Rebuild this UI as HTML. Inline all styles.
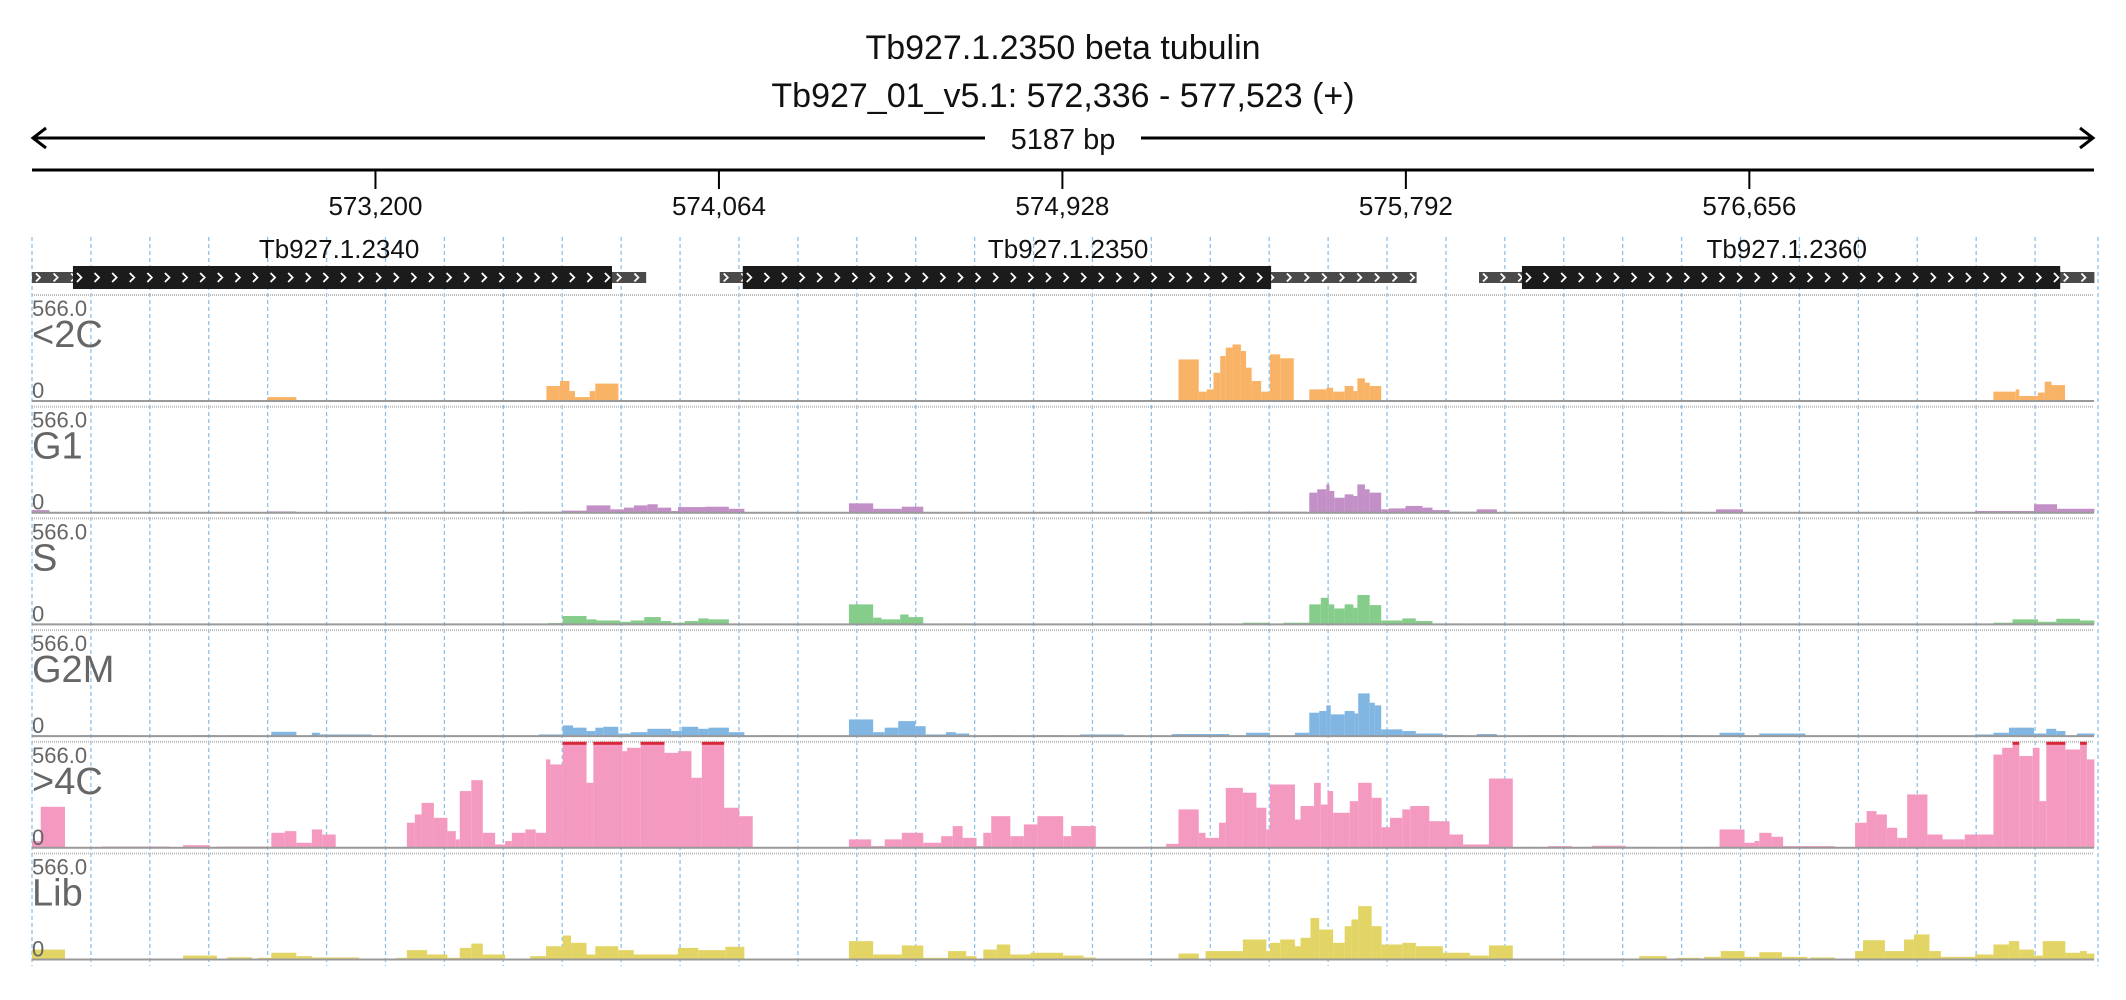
<!DOCTYPE html>
<html><head><meta charset="utf-8">
<style>
html,body{margin:0;padding:0;background:#fff;}
svg{display:block;font-family:"Liberation Sans",sans-serif;}
</style></head>
<body>
<svg id="chart" width="2126" height="1000" viewBox="0 0 2126 1000" xmlns="http://www.w3.org/2000/svg">
  <text x="1063" y="59" text-anchor="middle" font-size="34" fill="#111">Tb927.1.2350  beta tubulin</text>
  <text x="1063" y="107" text-anchor="middle" font-size="34" fill="#111">Tb927_01_v5.1: 572,336 - 577,523 (+)</text>
  <g id="scalebar">
    <line x1="34" y1="138" x2="2092" y2="138" stroke="#000" stroke-width="3"/>
    <polyline points="46,128 33,138 46,148" fill="none" stroke="#000" stroke-width="3"/>
    <polyline points="2080,128 2093,138 2080,148" fill="none" stroke="#000" stroke-width="3"/>
    <rect x="985" y="122" width="156" height="32" fill="#fff"/>
    <text x="1063" y="149" text-anchor="middle" font-size="29" fill="#111">5187 bp</text>
  </g>
  <g id="axis"></g>
  <g id="grid"></g>
  <g id="genes"></g>
  <g id="tracks"></g>
</svg>
<script>
const winStart = 572336;
const winEnd = 577523;
const tickValues = [573200, 574064, 574928, 575792, 576656];
const trackNames = ["<2C", "G1", "S", "G2M", ">4C", "Lib"];
const trackColors = ["#f9b366", "#c290c6", "#86cc8a", "#80b6e1", "#f49ac0", "#e2d566"];
const trackMax = 566;
const geneNames = ["Tb927.1.2340", "Tb927.1.2350", "Tb927.1.2360"];
const geneSpans = [[0, 1545], [1730, 3483], [3640, 5188]];
const cdsSpans = [[103, 1459], [1788, 3117], [3748, 5102]];
const cov2C = [[593,665,21],[1294,1328,80],[1328,1352,107],[1352,1366,53],[1366,1403,21],[1403,1417,53],[1417,1475,93],
[2884,2935,222],[2935,2955,50],[2955,2972,62],[2972,2989,151],[2989,3003,240],[3003,3020,285],[3020,3041,302],[3041,3054,267],[3054,3068,178],[3068,3092,107],[3092,3114,50],[3114,3140,249],[3140,3174,228],[3213,3256,62],[3256,3273,71],[3273,3302,50],[3302,3324,80],[3324,3334,53],[3334,3353,121],[3353,3365,98],[3365,3394,80],[4934,4990,50],[4990,4999,62],[4999,5046,27],[5046,5063,45],[5063,5080,103],[5080,5114,85]];
const covG1 = [[0,44,14],[593,665,7],[1241,1335,5],[1335,1395,11],[1395,1455,39],[1455,1489,18],[1489,1514,27],[1514,1548,39],[1548,1574,45],[1574,1608,27],[1608,1625,9],[1625,1693,30],[1693,1753,32],[1753,1792,21],[2055,2116,50],[2116,2188,21],[2188,2242,32],
[3054,3208,5],[3213,3233,107],[3233,3256,125],[3256,3264,151],[3264,3276,116],[3276,3302,80],[3302,3324,98],[3324,3334,89],[3334,3353,151],[3353,3365,125],[3365,3394,107],[3394,3413,18],[3413,3455,23],[3455,3498,36],[3498,3523,27],[3523,3566,14],[3566,3634,5],[3634,3685,18],[4043,4103,5],[4146,4197,4],[4236,4304,18],[4888,5036,9],[5036,5094,45],[5094,5118,21],[5118,5188,21]];
const covS = [[0,44,5],[1298,1335,7],[1335,1395,45],[1395,1420,27],[1420,1480,21],[1480,1506,14],[1506,1540,21],[1540,1582,39],[1582,1608,18],[1608,1642,9],[1642,1676,18],[1676,1702,32],[1702,1753,27],[2055,2116,107],[2116,2137,36],[2137,2184,27],[2184,2205,53],[2205,2242,39],[2304,2358,5],
[2867,2926,5],[2952,3012,5],[3046,3114,9],[3148,3213,9],[3213,3242,107],[3242,3262,142],[3262,3276,107],[3276,3302,85],[3302,3324,107],[3324,3334,89],[3334,3365,157],[3365,3394,103],[3394,3447,21],[3447,3481,32],[3481,3523,18],[3523,3591,5],[3634,3685,5],[4934,4982,9],[4982,5046,27],[5046,5092,14],[5092,5152,30],[5152,5188,21]];
const covG2M = [[0,44,5],[124,243,5],[406,465,5],[491,554,5],[602,665,23],[704,724,18],[724,854,9],[1275,1335,9],[1335,1361,57],[1361,1395,45],[1395,1417,27],[1417,1437,45],[1437,1475,50],[1475,1506,14],[1506,1548,21],[1548,1608,39],[1608,1634,27],[1634,1676,50],[1676,1702,39],[1702,1753,45],[1753,1792,21],[1838,1881,5],[2055,2116,89],[2116,2145,21],[2145,2179,45],[2179,2222,80],[2222,2248,53],[2248,2299,9],[2299,2324,21],[2324,2358,14],[2413,2464,5],[2526,2594,5],
[2636,2747,9],[2867,3012,11],[3054,3114,18],[3177,3213,18],[3213,3238,125],[3238,3256,134],[3256,3267,164],[3267,3302,116],[3302,3327,134],[3327,3336,121],[3336,3365,228],[3365,3378,178],[3378,3394,164],[3394,3447,36],[3447,3481,27],[3481,3549,14],[3549,3600,5],[3634,3685,11],[3762,3885,5],[4043,4105,5],[4146,4194,5],[4245,4308,18],[4345,4461,14],[4888,4934,9],[4934,4973,18],[4973,5036,45],[5036,5067,14],[5067,5092,39],[5092,5115,27],[5144,5188,14]];
const cov4C = [[0,22,36],[22,83,219],[175,346,7],[380,448,14],[465,593,7],[602,636,80],[636,665,89],[665,704,27],[704,730,98],[730,764,71],[764,892,5],[943,963,134],[963,980,178],[980,1011,240],[1011,1045,160],[1045,1066,89],[1066,1076,45],[1076,1105,303],[1105,1134,361],[1134,1165,80],[1165,1190,18],[1190,1207,36],[1207,1241,80],[1241,1267,98],[1267,1293,80],[1293,1304,472],[1304,1335,445],[1335,1395,600],[1395,1412,347],[1412,1485,600],[1485,1497,516],[1497,1531,534],[1531,1591,600],[1591,1625,507],[1625,1659,516],[1659,1685,374],[1685,1741,600],[1741,1779,214],[1779,1813,169],[2055,2111,45],[2111,2145,9],[2145,2188,45],[2188,2242,80],[2242,2287,27],[2287,2316,62],[2316,2341,116],[2341,2376,53],[2376,2393,9],[2393,2413,80],[2413,2461,169],[2461,2495,62],[2495,2529,125],[2529,2594,169],
[2594,2614,62],[2614,2676,116],[2676,2850,5],[2853,2884,21],[2884,2935,205],[2935,2952,80],[2952,2986,53],[2986,3003,134],[3003,3046,320],[3046,3080,294],[3080,3105,214],[3105,3114,98],[3114,3177,338],[3177,3191,151],[3191,3225,223],[3225,3242,347],[3242,3259,231],[3259,3273,303],[3273,3315,187],[3315,3336,249],[3336,3370,347],[3370,3395,267],[3395,3416,110],[3416,3447,160],[3447,3467,205],[3467,3515,223],[3515,3566,142],[3566,3600,71],[3600,3665,18],[3665,3725,370],[3745,3788,5],[3813,3873,9],[3885,3924,5],[3924,4009,11],[4009,4086,5],[4206,4245,5],[4245,4308,98],[4308,4333,27],[4333,4345,36],[4345,4376,80],[4376,4405,59],[4405,4535,9],[4586,4615,134],[4615,4640,196],[4640,4666,178],[4666,4692,107],[4692,4717,53],[4717,4768,285],[4768,4806,71],[4806,4862,45],[4862,4896,71],[4896,4934,71],[4934,4956,498],[4956,4982,534],[4982,4999,600],[4999,5033,490],[5033,5050,534],[5050,5067,249],[5067,5115,600],[5115,5152,525],[5152,5169,600],[5169,5188,472]];
const covLib = [[0,83,53],[380,465,21],[491,554,12],[568,602,9],[602,665,36],[665,704,18],[704,823,11],[832,892,5],[917,943,9],[943,994,50],[994,1045,27],[1045,1076,9],[1076,1105,62],[1105,1134,85],[1134,1190,27],[1190,1233,5],[1253,1293,18],[1293,1335,71],[1335,1356,128],[1356,1395,89],[1395,1417,27],[1417,1475,71],[1475,1514,50],[1514,1625,27],[1625,1676,62],[1676,1744,50],[1744,1792,68],[1932,2017,5],[2055,2116,98],[2116,2188,27],[2188,2242,75],[2242,2304,9],[2304,2350,45],[2350,2376,18],[2393,2427,53],[2427,2461,80],[2461,2512,27],[2512,2594,36],
[2594,2645,21],[2645,2676,11],[2815,2875,5],[2884,2935,32],[2952,3046,45],[3046,3105,107],[3105,3114,45],[3114,3140,89],[3140,3177,107],[3177,3191,71],[3191,3216,116],[3216,3238,222],[3238,3273,160],[3273,3302,89],[3302,3319,178],[3319,3336,214],[3336,3370,285],[3370,3395,178],[3395,3447,80],[3447,3481,89],[3481,3549,71],[3549,3617,36],[3617,3665,21],[3665,3725,75],[3813,3941,5],[4043,4112,18],[4137,4197,9],[4206,4248,14],[4248,4308,45],[4308,4345,14],[4345,4402,39],[4402,4466,14],[4473,4535,11],[4586,4606,45],[4606,4661,103],[4661,4709,45],[4709,4734,107],[4734,4773,134],[4773,4802,45],[4802,4888,14],[4888,4934,27],[4934,4973,80],[4973,4999,98],[4999,5036,53],[5036,5058,21],[5058,5115,98],[5115,5152,36],[5152,5169,45],[5169,5188,32]];
const coverage = [cov2C, covG1, covS, covG2M, cov4C, covLib];

const NS = "http://www.w3.org/2000/svg";
const X0 = 32, X1 = 2094;
function xOff(o){ return X0 + o * (X1 - X0) / (winEnd - winStart); }
function xBp(bp){ return xOff(bp - winStart); }
function mk(tag, attrs, parent){ const e = document.createElementNS(NS, tag); for (const k in attrs) e.setAttribute(k, attrs[k]); parent.appendChild(e); return e; }

const axis = document.getElementById('axis');
mk('line', {x1:X0, y1:170, x2:X1, y2:170, stroke:'#000', 'stroke-width':3}, axis);
tickValues.forEach(v => {
  const x = xBp(v);
  const t = mk('line', {x1:x, y1:170, x2:x, y2:189, stroke:'#000', 'stroke-width':2}, axis);
  
  
  const l = mk('text', {x:x, y:215, 'text-anchor':'middle', 'font-size':26, fill:'#111'}, axis);
  l.textContent = v.toLocaleString('en-US');
  
  
});

const grid = document.getElementById('grid');
for (let k = 0; k <= 35; k++) {
  const x = X0 + k * (X1 - X0) / 35 + (k === 35 ? 4 : 0);
  const g = mk('line', {x1:x, y1:237, x2:x, y2:966, stroke:'#8ec0ea', 'stroke-width':1.3, 'stroke-dasharray':'4,3'}, grid);
  
  
}

const genes = document.getElementById('genes');
function chevrons(parent, x1, x2, cy, size){
  let s = '';
  for (let x = x1 + 4; x < x2 - 4; x += 17.6) s += `M${x},${cy-size} L${x+size},${cy} L${x},${cy+size} `;
  mk('path', {d:s, fill:'none', stroke:'#fff', 'stroke-width':1.8}, parent);
}
geneNames.forEach((name, i) => {
  const g = mk('g', {}, genes);
  
  
  const gx1 = xOff(geneSpans[i][0]), gx2 = xOff(geneSpans[i][1]);
  const cx1 = xOff(cdsSpans[i][0]), cx2 = xOff(cdsSpans[i][1]);
  mk('rect', {x:gx1, y:272, width:gx2-gx1, height:11, fill:'#4a4a4a'}, g);
  chevrons(g, gx1, gx2, 277.5, 4);
  mk('rect', {x:cx1, y:266, width:cx2-cx1, height:23, fill:'#1b1b1b'}, g);
  chevrons(g, cx1, cx2, 277.5, 4.5);
  const t = mk('text', {x:(gx1+gx2)/2, y:258, 'text-anchor':'middle', 'font-size':26, fill:'#111'}, g);
  t.textContent = name;
  
  
});

const tracks = document.getElementById('tracks');
const PITCH = 111.7, TOP0 = 295, H = 106;
trackNames.forEach((name, i) => {
  const top = TOP0 + PITCH * i, base = top + H;
  const g = mk('g', {}, tracks);
  
  
  mk('line', {x1:X0, y1:top, x2:X1, y2:top, stroke:'#bbb', 'stroke-width':2, 'stroke-dasharray':'1,1'}, g);
  coverage[i].forEach(seg => {
    const x1 = xOff(seg[0]), x2 = xOff(seg[1]);
    const v = Math.min(seg[2], trackMax);
    const h = v / trackMax * H;
    const r = mk('rect', {x:x1, y:base-h, width:Math.max(x2-x1,1), height:h, fill:trackColors[i]}, g);
    
    
    if (seg[2] > trackMax) {
      const c = mk('rect', {x:x1, y:top, width:x2-x1, height:3, fill:'#d62839'}, g);
      
      
    }
  });
  mk('line', {x1:X0, y1:base, x2:X1, y2:base, stroke:'#999', 'stroke-width':2}, g);
  const mx = mk('text', {x:X0, y:top+21, 'font-size':22, fill:'#666'}, g);
  mx.textContent = '566.0';
  
  
  const nm = mk('text', {x:X0, y:top+52, 'font-size':38, fill:'#666'}, g);
  nm.textContent = name;
  
  
  const z = mk('text', {x:X0, y:base-3, 'font-size':22, fill:'#666'}, g);
  z.textContent = '0';
  
  
});
</script>
</body></html>
